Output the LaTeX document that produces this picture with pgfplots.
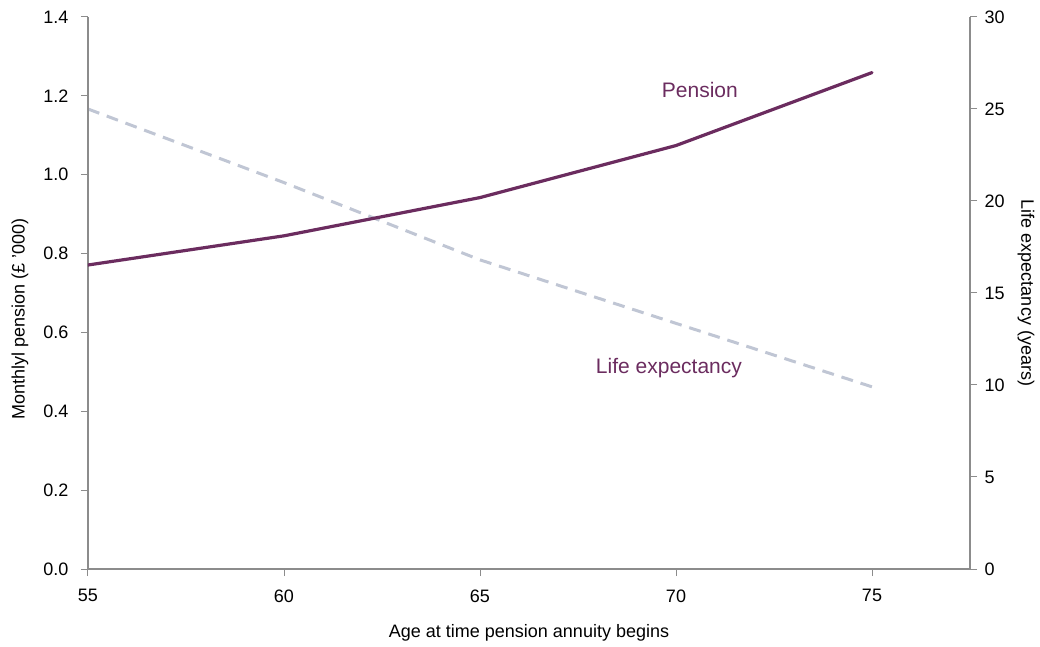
\documentclass[border=0pt]{standalone}
\usepackage{pgfplots}
\pgfplotsset{compat=1.18}
\usepackage{fontspec}
\setmainfont{Liberation Sans}
\definecolor{pens}{HTML}{6B2C5F}
\definecolor{life}{HTML}{C0C6D4}
\definecolor{axgray}{HTML}{8C8C8C}
\begin{document}
\begin{tikzpicture}
\pgfplotsset{
 common/.style={
  scale only axis, width=882bp, height=552bp,
  xmin=55, xmax=77.5,
  /pgf/number format/assume math mode=true,
  tick label style={font=\fontsize{18bp}{20bp}\selectfont, text=black},
  axis line style={axgray, line width=1.3bp},
  major tick style={axgray, line width=1bp},
  major tick length=7bp,
  tick align=outside,
 }
}
% right axis: life expectancy
\begin{axis}[common,
 axis x line=none, axis y line*=right,
 ymin=0, ymax=30, ytick={0,5,10,15,20,25,30},
 yticklabel style={xshift=4bp},
 every axis y label/.style={at={(axis description cs:1,0.5)}, anchor=center, xshift=56bp, rotate=-90, font=\fontsize{18bp}{20bp}\selectfont},
 ylabel={Life expectancy (years)},
]
\addplot[life, line width=3bp, dash pattern=on 12bp off 8bp] coordinates {
 (55,25.0) (60,21.0) (65,16.8) (70,13.35) (75,9.9)};
\end{axis}
% left axis: pension
\begin{axis}[common,
 axis x line*=bottom, axis y line*=left,
 ymin=0, ymax=1.4, ytick={0,0.2,0.4,0.6,0.8,1.0,1.2,1.4},
 yticklabel style={/pgf/number format/.cd, fixed, fixed zerofill, precision=1, /tikz/.cd, xshift=-9bp},
 xtick={55,60,65,70,75},
 xticklabel style={yshift=-10bp},
 every axis x label/.style={at={(axis description cs:0.5,0)}, anchor=center, yshift=-64bp, font=\fontsize{18bp}{20bp}\selectfont},
 every axis y label/.style={at={(axis description cs:0,0.453)}, anchor=center, xshift=-68bp, rotate=90, font=\fontsize{18bp}{20bp}\selectfont},
 xlabel={Age at time pension annuity begins},
 ylabel={Monthlyl pension (£ '000)},
]
\addplot[pens, line width=3.2bp, line cap=round, line join=round] coordinates {
 (55,0.771) (60,0.845) (65,0.942) (70,1.074) (75,1.259)};
\node[text=pens, font=\fontsize{21bp}{24bp}\selectfont] at (axis cs:70.61,1.215) {Pension};
\node[text=pens, font=\fontsize{21bp}{24bp}\selectfont] at (axis cs:69.82,0.51) {Life expectancy};
\end{axis}
\pgfresetboundingbox
\path (-88bp,-78bp) rectangle (952bp,569bp);
\end{tikzpicture}
\end{document}
